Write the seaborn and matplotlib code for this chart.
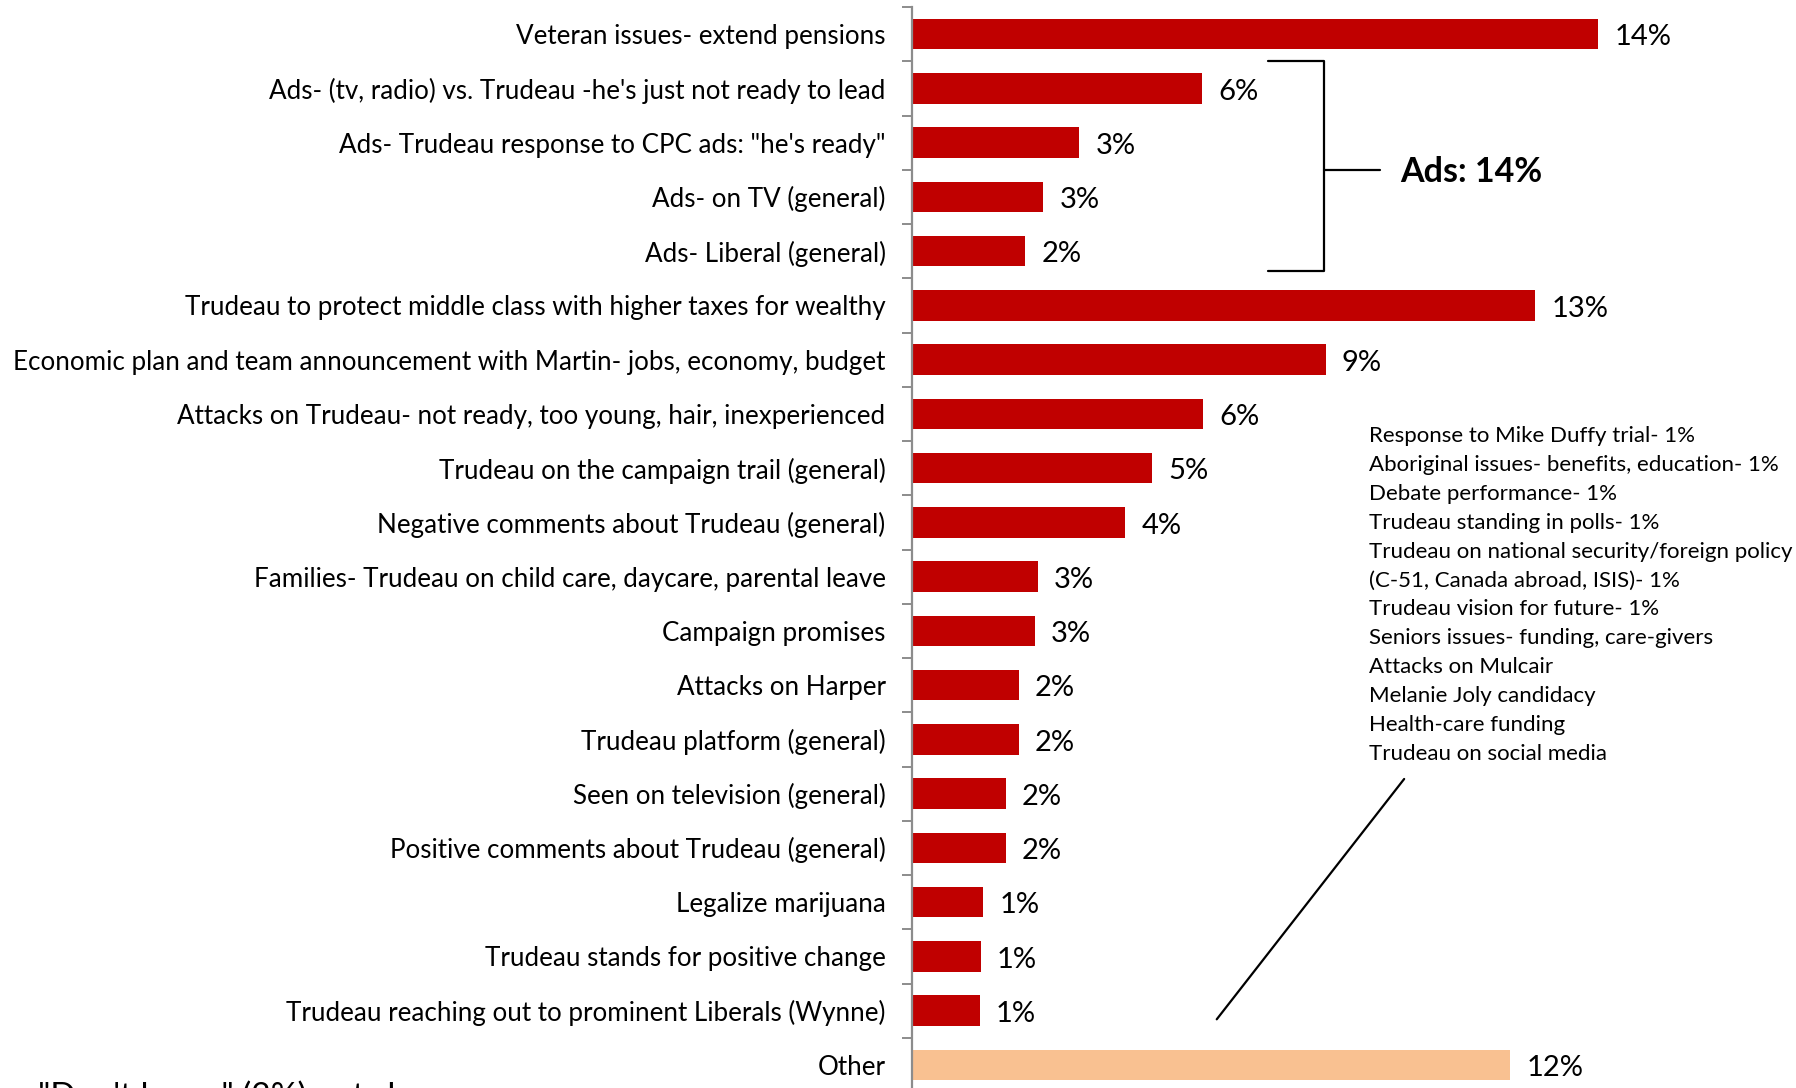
import matplotlib
matplotlib.use("Agg")
import matplotlib.pyplot as plt
import seaborn as sns
import pandas as pd
import numpy as np
from matplotlib.lines import Line2D

categories = [
    "Veteran issues- extend pensions",
    "Ads- (tv, radio) vs. Trudeau -he's just not ready to lead",
    "Ads- Trudeau response to CPC ads: \"he's ready\"",
    "Ads- on TV (general)",
    "Ads- Liberal (general)",
    "Trudeau to protect middle class with higher taxes for wealthy",
    "Economic plan and team announcement with Martin- jobs, economy, budget",
    "Attacks on Trudeau- not ready, too young, hair, inexperienced",
    "Trudeau on the campaign trail (general)",
    "Negative comments about Trudeau (general)",
    "Families- Trudeau on child care, daycare, parental leave",
    "Campaign promises",
    "Attacks on Harper",
    "Trudeau platform (general)",
    "Seen on television (general)",
    "Positive comments about Trudeau (general)",
    "Legalize marijuana",
    "Trudeau stands for positive change",
    "Trudeau reaching out to prominent Liberals (Wynne)",
    "Other",
]
values = [14.1, 5.96, 3.44, 2.7, 2.33, 12.8, 8.5, 5.98, 4.94, 4.38,
          2.59, 2.52, 2.19, 2.19, 1.93, 1.93, 1.46, 1.41, 1.39, 12.29]
value_labels = ["14%", "6%", "3%", "3%", "2%", "13%", "9%", "6%", "5%", "4%",
                "3%", "3%", "2%", "2%", "2%", "2%", "1%", "1%", "1%", "12%"]
bar_colors = ["#C00000"] * 19 + ["#F9C191"]

other_items = [
    "Response to Mike Duffy trial- 1%",
    "Aboriginal issues- benefits, education- 1%",
    "Debate performance- 1%",
    "Trudeau standing in polls- 1%",
    "Trudeau on national security/foreign policy",
    "(C-51, Canada abroad, ISIS)- 1%",
    "Trudeau vision for future- 1%",
    "Seniors issues- funding, care-givers",
    "Attacks on Mulcair",
    "Melanie Joly candidacy",
    "Health-care funding",
    "Trudeau on social media",
]
ads_label = "Ads: 14%"
footnote = "\"Don't know\" (2%) not shown"

sns.set_theme(style="white")
plt.rcParams["font.family"] = ["Lato", "DejaVu Sans"]

W, H = 1796, 1088
fig = plt.figure(figsize=(W / 100, H / 100), dpi=100)
ax_left = 912 / W
ax_top = 1 - 7 / H
ax_bottom = 1 - 1092 / H
ax = fig.add_axes([ax_left, ax_bottom, 1 - ax_left, ax_top - ax_bottom])

df = pd.DataFrame({"cat": categories, "val": values})
sns.barplot(data=df, x="val", y="cat", hue="cat", palette=bar_colors,
            legend=False, width=0.56, ax=ax, orient="h", saturation=1,
            edgecolor="none")

ax.set_xlim(0, 884 / 48.68)
ax.set_ylim(len(categories) - 0.5, -0.5)
ax.set_xlabel("")
ax.set_ylabel("")
ax.set_xticks([])
for s in ["top", "right", "bottom"]:
    ax.spines[s].set_visible(False)
ax.spines["left"].set_color("#8C8C8C")
ax.spines["left"].set_linewidth(1.6)

ax.set_yticks(range(len(categories)))
ax.set_yticklabels(categories, fontsize=18.75, color="black")
ax.tick_params(axis="y", which="major", length=0, pad=19)
ax.set_yticks(np.arange(-0.5, len(categories), 1.0), minor=True)
ax.tick_params(axis="y", which="minor", length=7, width=1.4, color="#8C8C8C",
               direction="out", left=True)

for i, (v, lab) in enumerate(zip(values, value_labels)):
    ax.text(v + 0.33, i + 0.06, lab, va="center", ha="left", fontsize=21,
            color="black")

# Ads bracket
bx0, bx1, bx2 = 7.31, 8.46, 9.61
by0, by1, bym = 0.49, 4.37, 2.5
ax.add_line(Line2D([bx0, bx1, bx1, bx0], [by0, by0, by1, by1], color="black", lw=1.6))
ax.add_line(Line2D([bx1, bx2], [bym, bym], color="black", lw=1.6))
ax.text(10.02, bym + 0.04, ads_label, va="center", ha="left", fontsize=24.5,
        fontweight="bold", color="black")

# Other items list
y0_px = 436
for k, item in enumerate(other_items):
    fig.text(1369 / W, 1 - (y0_px + k * 28.9) / H, item, va="center", ha="left",
             fontsize=16, color="black")

ax.add_line(Line2D([10.11, 6.26], [13.73, 18.16], color="black", lw=1.6))

fig.text(38 / W, 1 - 1082 / H, footnote, va="top", ha="left", fontsize=24,
         color="black")

fig.savefig("out.png", dpi=100)
